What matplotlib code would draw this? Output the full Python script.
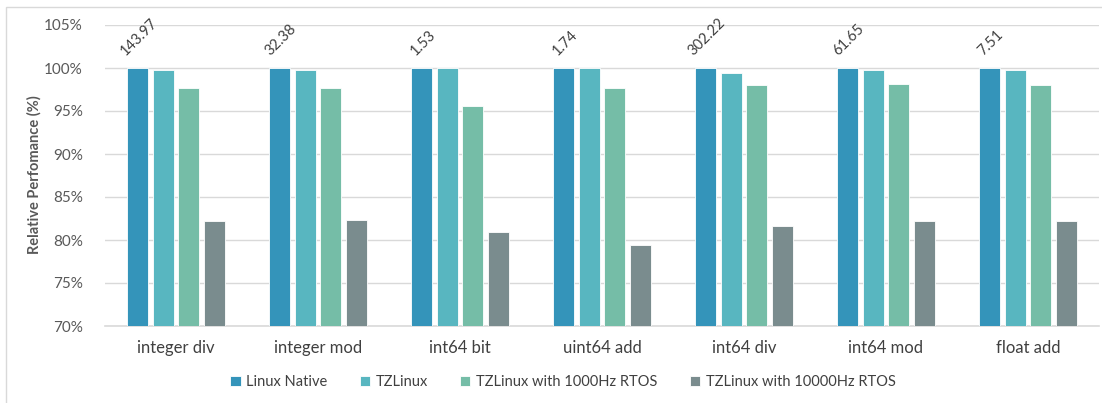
import matplotlib
matplotlib.use("Agg")
import matplotlib.pyplot as plt
import matplotlib.transforms as mtransforms
from matplotlib.patches import Rectangle
import numpy as np

plt.rcParams['font.family'] = ['Lato', 'DejaVu Sans']

categories = ["integer div", "integer mod", "int64 bit", "uint64 add",
              "int64 div", "int64 mod", "float add"]
series_names = ["Linux Native", "TZLinux", "TZLinux with 1000Hz RTOS",
                "TZLinux with 10000Hz RTOS"]
linux_native = [100.0, 100.0, 100.0, 100.0, 100.0, 100.0, 100.0]
tzlinux = [99.8, 99.8, 100.0, 100.0, 99.4, 99.8, 99.8]
tzlinux_1000hz = [97.7, 97.7, 95.6, 97.7, 98.0, 98.1, 98.0]
tzlinux_10000hz = [82.2, 82.3, 80.9, 79.4, 81.6, 82.2, 82.2]
native_labels = ["143.97", "32.38", "1.53", "1.74", "302.22", "61.65", "7.51"]
yticks = [70, 75, 80, 85, 90, 95, 100, 105]

colors = ["#3494BA", "#58B6C0", "#75BDA7", "#7A8C8E"]
series = [linux_native, tzlinux, tzlinux_1000hz, tzlinux_10000hz]

fig = plt.figure(figsize=(11.02, 4.03), dpi=100)
ax = fig.add_axes([105 / 1102, 1 - 326 / 403, (1099 - 105) / 1102, (326 - 25) / 403])

x = np.arange(len(categories))
slot = 0.18
width = 0.145
for i, (vals, c, name) in enumerate(zip(series, colors, series_names)):
    offs = (i - 1.5) * slot
    ax.bar(x + offs, np.array(vals) - 70, width, bottom=70, color=c,
           edgecolor="white", linewidth=0.6, label=name, zorder=3)

# value labels above the Linux Native bars, tilted 45 degrees
lift = mtransforms.offset_copy(ax.transData, fig=fig, x=1, y=7, units="points")
for xi, v, lab in zip(x, linux_native, native_labels):
    ax.text(xi - 1.5 * slot, v, lab, transform=lift, ha="center", va="bottom",
            rotation=45, fontsize=10.5, color="#404040", zorder=4, clip_on=False)

ax.set_xlim(-0.5, len(categories) - 0.5)
ax.set_ylim(70, 105)
ax.set_yticks(yticks)
ax.set_yticklabels([f"{t}%" for t in yticks], fontsize=11, color="#595959")
ax.set_xticks(x)
ax.set_xticklabels(categories, fontsize=12, color="#404040")
ax.tick_params(axis="y", length=0, pad=16)
ax.tick_params(axis="x", length=0, pad=10)
ax.grid(axis="y", color="#D9D9D9", linewidth=1.0, zorder=0)
for s in ["top", "right", "left"]:
    ax.spines[s].set_visible(False)
ax.spines["bottom"].set_color("#D9D9D9")
ax.spines["bottom"].set_linewidth(1.2)

ax.set_ylabel("Relative Perfomance (%)", fontsize=10.5, fontweight="bold",
              color="#595959")
ax.yaxis.set_label_coords(-(105 - 42) / 994, 0.5 + (176 - 175) / 301)

leg = fig.legend(loc="center", bbox_to_anchor=(563 / 1102, 1 - 382 / 403), ncol=4,
                 frameon=False, fontsize=10.5, handlelength=0.7, handleheight=0.7,
                 handletextpad=0.4, columnspacing=2.2)
for t in leg.get_texts():
    t.set_color("#404040")

# chart frame
fig.patches.append(Rectangle((6 / 1102, -0.1), 1.2, 1 - 7 / 403 + 0.1,
                             transform=fig.transFigure, fill=False,
                             edgecolor="#D9D9D9", linewidth=1.0))

fig.savefig("out.png", dpi=100)
